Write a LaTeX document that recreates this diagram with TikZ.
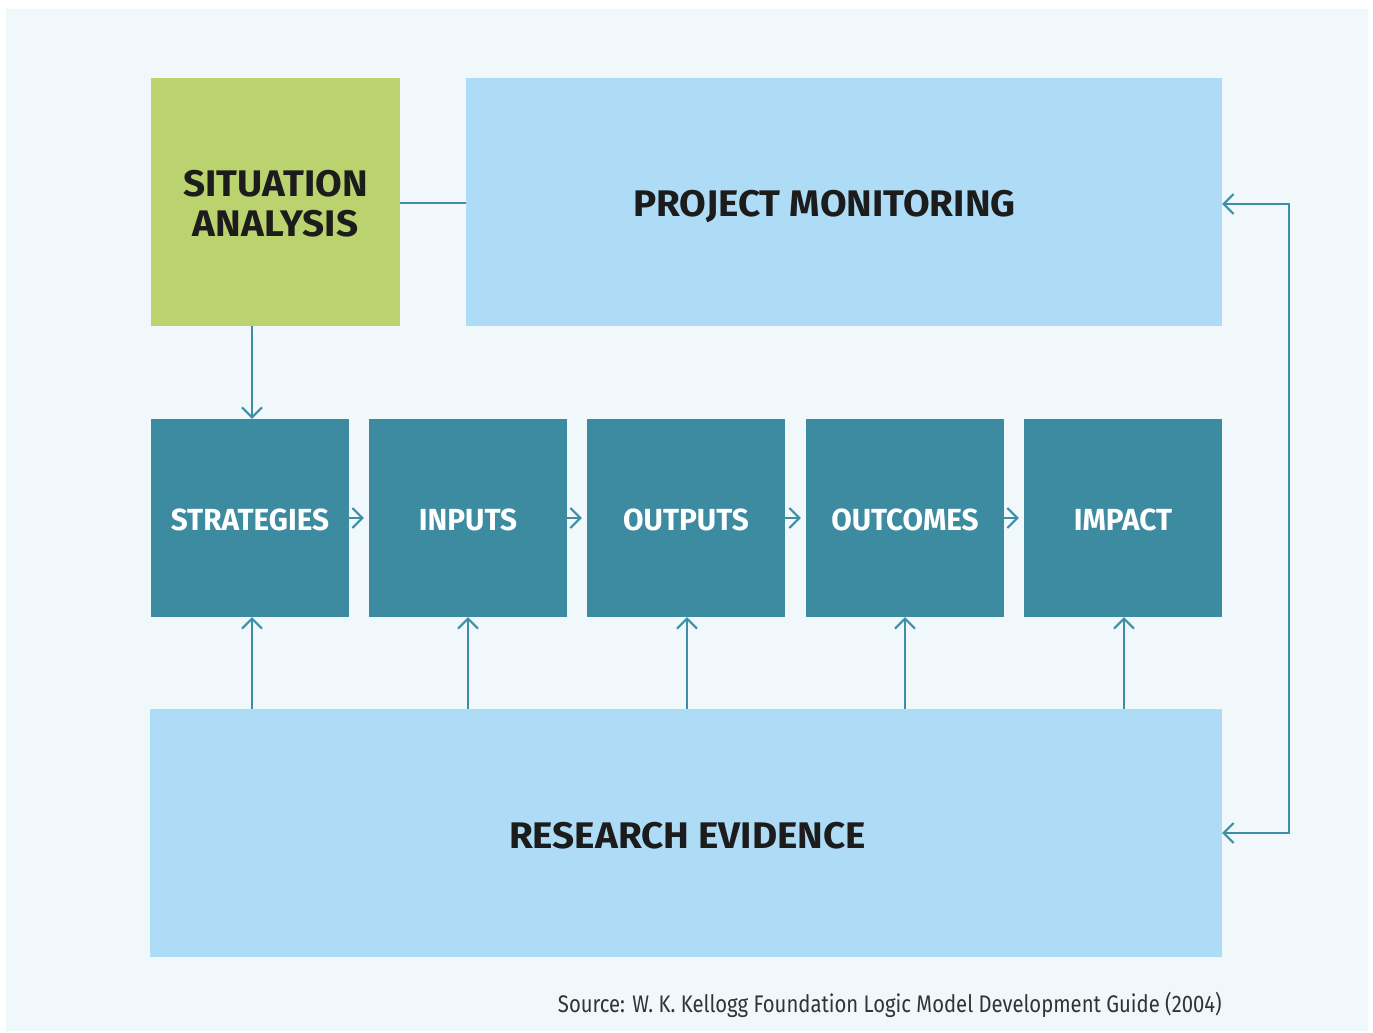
\documentclass[tikz,border=0pt]{standalone}
\usepackage{fontspec}
\setmainfont{Fira Sans}
\newfontfamily\titlefont[FakeStretch=1.045]{Fira Sans}
\newfontfamily\rowfont[FakeStretch=0.975]{Fira Sans}
\newfontfamily\srcfont[FakeStretch=0.845]{Fira Sans}
\usetikzlibrary{arrows.meta}
\definecolor{bgc}{HTML}{F0F8FC}
\definecolor{greenc}{HTML}{BBD36E}
\definecolor{lightc}{HTML}{AEDCF6}
\definecolor{tealc}{HTML}{3C8BA0}
\definecolor{linec}{HTML}{3C8FA6}
\definecolor{textc}{HTML}{1C1C1C}
\tikzset{
  box/.style={draw=none, inner sep=0pt, anchor=center},
  bigbox/.style={box, fill=lightc, minimum width=756pt, minimum height=248pt},
  rowbox/.style={box, fill=tealc, minimum width=198pt, minimum height=198pt,
    text=white, text height=25pt, text depth=0pt,
    font=\rowfont\bfseries\fontsize{30.5}{33}\selectfont},
  bigtext/.style={text=textc, inner sep=0pt, align=center,
    font=\titlefont\bfseries\fontsize{37}{40}\selectfont},
  conn/.style={draw=linec, line width=2pt},
  arr/.style={conn, -{Straight Barb[length=10pt,width=20pt,line width=2pt]}},
}
\begin{document}
\begin{tikzpicture}[x=1pt,y=-1pt]
\useasboundingbox (0,0) rectangle (1373,1033);
\fill[bgc] (6,9) rectangle (1368,1031);
% top row
\node[box, fill=greenc, minimum width=249pt, minimum height=248pt] (sa) at (275.5,202) {};
\node[bigtext] (sat) at (275.5,204) {SITUATION\\ANALYSIS};
\node[bigbox] (pm) at (844,202) {};
\node[bigtext] (pmt) at (824.5,206) {PROJECT MONITORING};
% middle row
\node[rowbox] (st) at (250,518) {STRATEGIES};
\node[rowbox] (in) at (468,518) {INPUTS};
\node[rowbox] (ou) at (686,518) {OUTPUTS};
\node[rowbox] (oc) at (905,518) {OUTCOMES};
\node[rowbox] (im) at (1123,518) {IMPACT};
% bottom
\node[bigbox, minimum width=1072pt] (re) at (686,833) {};
\node[bigtext] (ret) at (687.5,836) {RESEARCH EVIDENCE};
% source
\node[anchor=base east, inner sep=0pt, text=textc!90, font=\srcfont\fontsize{24}{28}\selectfont] (src) at (1222,1012) {Source: W. K. Kellogg Foundation Logic Model Development Guide (2004)};
% connectors
\draw[conn] (sa.east |- 0,203) -- (pm.west |- 0,203);
\draw[arr] (sa.south -| 252,0) -- (st.north -| 252,0);
\foreach \a/\b in {st/in, in/ou, ou/oc, oc/im}{
  \draw[arr, shorten >=5pt] (\a.east) -- (\b.west);
}
\foreach \n/\x in {st/252, in/468, ou/687, oc/905, im/1124}{
  \draw[arr] (re.north -| \x,0) -- (\n.south -| \x,0);
}
\coordinate (fbtop) at (1289,204);
\coordinate (fbbot) at (1289,833);
\draw[arr] (fbbot) -- (fbtop) -- (pm.east |- fbtop);
\draw[arr] (fbtop) -- (fbbot) -- (re.east |- fbbot);
\end{tikzpicture}
\end{document}
